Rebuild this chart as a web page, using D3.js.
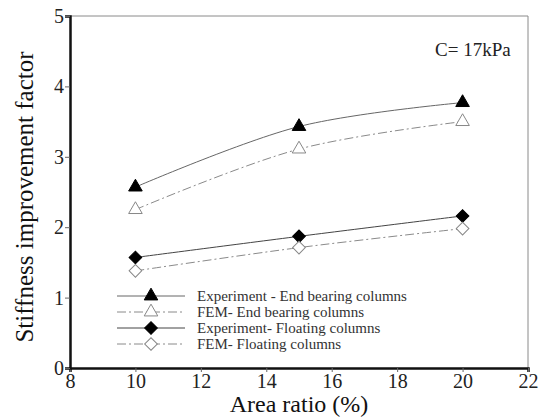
<!DOCTYPE html>
<html>
<head>
<meta charset="utf-8">
<script src="https://d3js.org/d3.v7.min.js"></script>
<style>
  body { margin: 0; background: #fff; }
  svg text { font-family: 'Liberation Serif', 'Times New Roman', serif; }
</style>
</head>
<body>
<script>
// area ratios (%)
var areaRatio = [10, 15, 20];

// stiffness improvement factor
var expEndBearing = [2.57, 3.43, 3.77];
var femEndBearing = [2.25, 3.11, 3.50];
var expFloating   = [1.57, 1.87, 2.16];
var femFloating   = [1.38, 1.71, 1.98];

var xTicks = [8, 10, 12, 14, 16, 18, 20, 22];
var yTicks = [0, 1, 2, 3, 4, 5];

var seriesNames = [
  "Experiment - End bearing columns",
  "FEM- End bearing columns",
  "Experiment- Floating columns",
  "FEM- Floating columns"
];

var serif = "'Liberation Serif', 'Times New Roman', serif";

var margin = {top: 16, right: 14, bottom: 50, left: 70},
    width = 542 - margin.left - margin.right,
    height = 418 - margin.top - margin.bottom;

var svg = d3.select("body").append("svg")
    .attr("width", 542)
    .attr("height", 418)
  .append("g")
    .attr("transform", "translate(" + margin.left + "," + margin.top + ")");

var x = d3.scaleLinear().domain([8, 22]).range([0, width]);
var y = d3.scaleLinear().domain([0, 5]).range([height, 0]);

// top and right frame (thin grey)
svg.append("line")
    .attr("x1", 0).attr("x2", width).attr("y1", 0).attr("y2", 0)
    .style("stroke", "#8a8a8a").style("stroke-width", 1);
svg.append("line")
    .attr("x1", width).attr("x2", width).attr("y1", 0).attr("y2", height)
    .style("stroke", "#8a8a8a").style("stroke-width", 1);

// x axis
var xAxis = svg.append("g")
    .attr("transform", "translate(0," + height + ")")
    .call(d3.axisBottom(x).tickValues(xTicks).tickFormat(d3.format("d")).tickSize(4).tickPadding(2));
xAxis.select(".domain").style("stroke", "#111").style("stroke-width", 2.5);
xAxis.selectAll(".tick line").style("stroke", "#666");
xAxis.selectAll("text")
    .style("font-family", serif)
    .style("font-size", "20px")
    .style("fill", "#222");

// y axis
var yAxis = svg.append("g")
    .call(d3.axisLeft(y).tickValues(yTicks).tickFormat(d3.format("d")).tickSize(5).tickPadding(1));
yAxis.select(".domain").style("stroke", "#111").style("stroke-width", 2.5);
yAxis.selectAll(".tick line").style("stroke", "#666");
yAxis.selectAll("text")
    .style("font-family", serif)
    .style("font-size", "20px")
    .style("fill", "#222");

// axis titles
svg.append("text")
    .attr("x", width / 2)
    .attr("y", height + 44)
    .attr("text-anchor", "middle")
    .style("font-family", serif)
    .style("font-size", "24px")
    .style("fill", "#111")
    .text("Area ratio (%)");

svg.append("text")
    .attr("transform", "rotate(-90)")
    .attr("x", -(height / 2) - 5)
    .attr("y", -37)
    .attr("text-anchor", "middle")
    .style("font-family", serif)
    .style("font-size", "25px")
    .style("fill", "#111")
    .text("Stiffness improvement factor");

svg.append("text")
    .attr("x", 365)
    .attr("y", 40)
    .style("font-family", serif)
    .style("font-size", "19px")
    .style("fill", "#222")
    .text("C= 17kPa");

var line = d3.line()
    .x(function(d, i) { return x(areaRatio[i]); })
    .y(function(d) { return y(d); })
    .curve(d3.curveCatmullRom);

var tri = d3.symbol().type(d3.symbolTriangle).size(80);
var dia = d3.symbol().type(d3.symbolSquare).size(80);

var styles = [
  {data: expEndBearing, dash: null,       lineColor: "#666", sym: tri, rot: 0,  fill: "#000", stroke: "#000"},
  {data: femEndBearing, dash: "9,3,2,3",  lineColor: "#8a8a8a", sym: tri, rot: 0,  fill: "#fff", stroke: "#888"},
  {data: expFloating,   dash: null,       lineColor: "#444", sym: dia, rot: 45, fill: "#000", stroke: "#000"},
  {data: femFloating,   dash: "9,3,2,3",  lineColor: "#8a8a8a", sym: dia, rot: 45, fill: "#fff", stroke: "#888"}
];

styles.forEach(function(s) {
  svg.append("path")
      .datum(s.data)
      .attr("d", line)
      .style("fill", "none")
      .style("stroke", s.lineColor)
      .style("stroke-width", 1)
      .style("stroke-dasharray", s.dash);

  svg.selectAll(null)
      .data(s.data)
      .enter().append("path")
      .attr("d", s.sym)
      .attr("transform", function(d, i) {
        return "translate(" + x(areaRatio[i]) + "," + y(d) + ") rotate(" + s.rot + ")";
      })
      .style("fill", s.fill)
      .style("stroke", s.stroke)
      .style("stroke-width", 1);
});

// legend
var legend = svg.append("g").attr("transform", "translate(47,280)");
styles.forEach(function(s, i) {
  var row = legend.append("g").attr("transform", "translate(0," + (i * 16) + ")");
  row.append("line")
      .attr("x1", 0).attr("x2", 68)
      .style("stroke", s.lineColor)
      .style("stroke-width", 1)
      .style("stroke-dasharray", s.dash);
  row.append("path")
      .attr("d", s.sym)
      .attr("transform", "translate(34,0) rotate(" + s.rot + ")")
      .style("fill", s.fill)
      .style("stroke", s.stroke);
  row.append("text")
      .attr("x", 80)
      .attr("y", 5)
      .style("font-family", serif)
      .style("font-size", "15px")
      .style("fill", "#333")
      .text(seriesNames[i]);
});
</script>
</body>
</html>
